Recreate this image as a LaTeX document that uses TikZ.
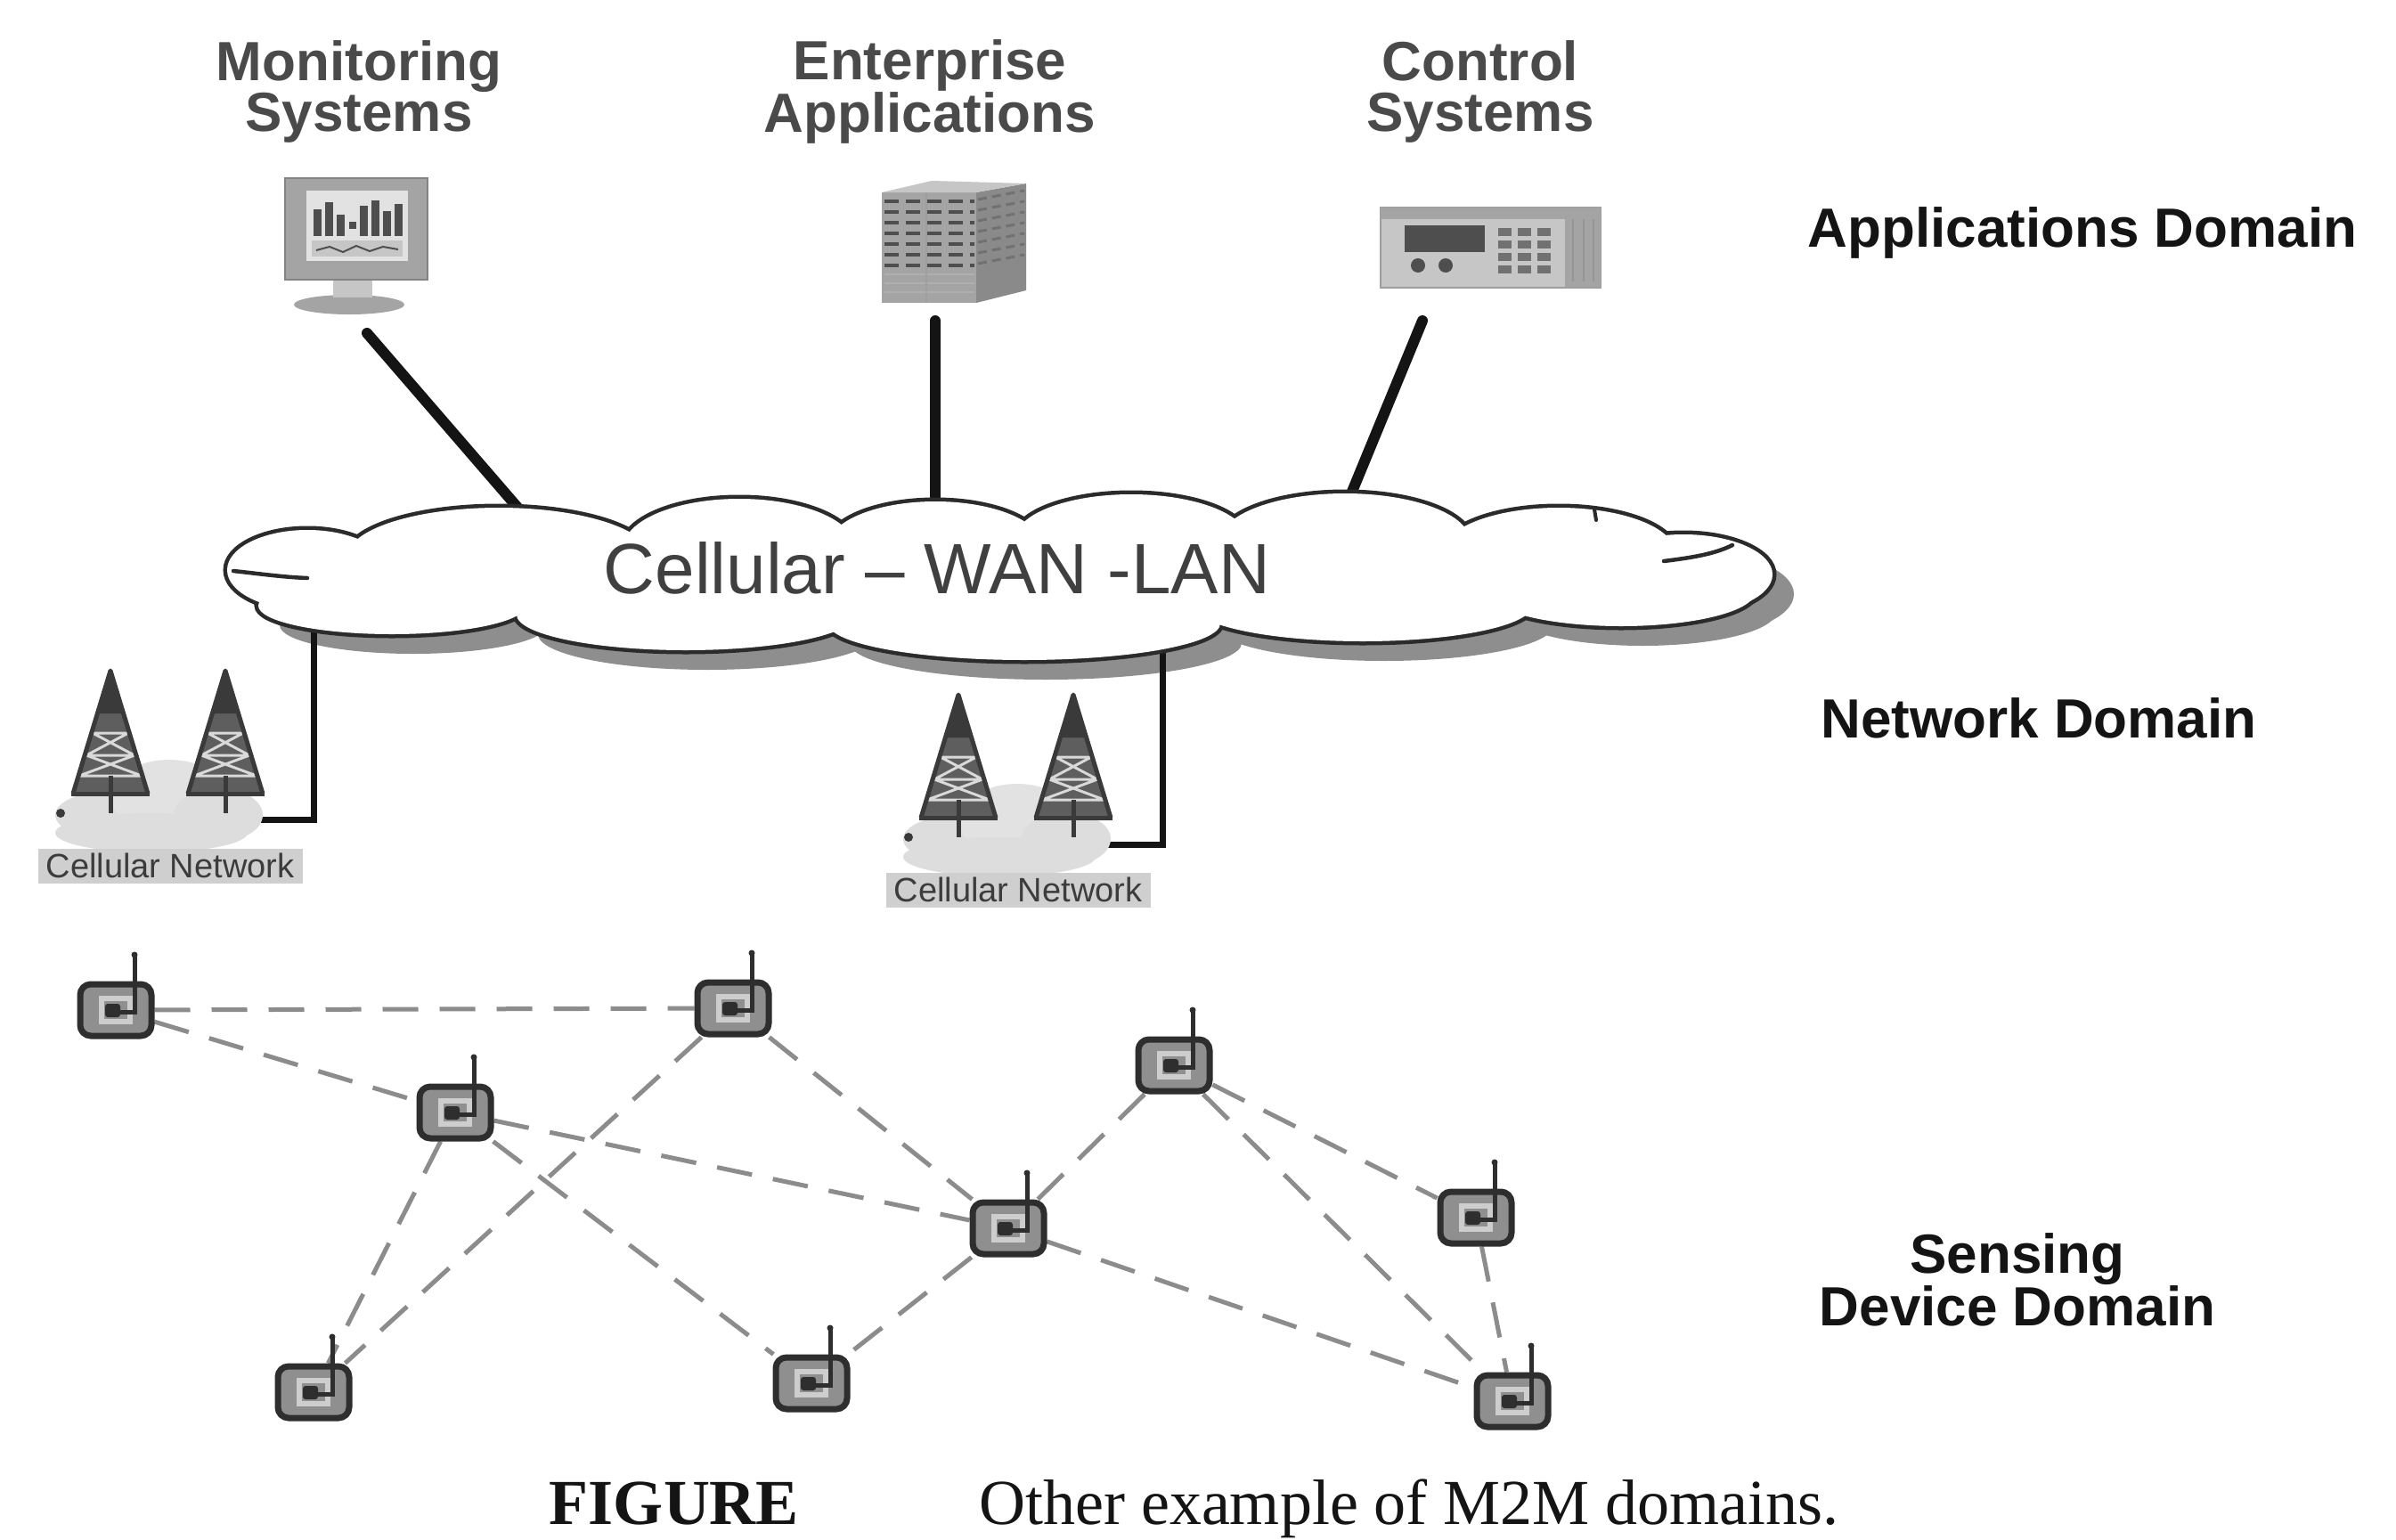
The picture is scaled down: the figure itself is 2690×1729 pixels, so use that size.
\documentclass[tikz,border=0pt]{standalone}
\usepackage{fontspec}
\setmainfont{Liberation Serif}
\setsansfont{Liberation Sans}
\usetikzlibrary{calc}
\pgfdeclarelayer{background}
\pgfsetlayers{background,main}

\definecolor{ink}{HTML}{141414}
\definecolor{headgray}{HTML}{4A4A4A}
\definecolor{cloudline}{HTML}{2B2B2B}
\definecolor{cloudshadow}{HTML}{8E8E8E}
\definecolor{cloudtext}{HTML}{404040}
\definecolor{meshgray}{HTML}{8C8C8C}
\definecolor{sensordark}{HTML}{2E2E2E}
\definecolor{sensorgray}{HTML}{8F8F8F}
\definecolor{sensorlight}{HTML}{CDCDCD}
\definecolor{towerdark}{HTML}{3A3A3A}
\definecolor{towerfill}{HTML}{5E5E5E}
\definecolor{cnfill}{HTML}{CFCFCF}
\definecolor{cncloud}{HTML}{DDDDDD}
\definecolor{cntext}{HTML}{3C3C3C}
\definecolor{icondark}{HTML}{4E4E4E}
\definecolor{icondeep}{HTML}{8A8A8A}
\definecolor{iconmid}{HTML}{A4A4A4}
\definecolor{iconlight}{HTML}{C6C6C6}
\definecolor{screenbg}{HTML}{E2E2E2}

\begin{document}
\begin{tikzpicture}[x=1pt,y=-1pt,
  headlbl/.style={font=\sffamily\bfseries\fontsize{62}{57}\selectfont, text=headgray, align=center, inner sep=0pt},
  domlbl/.style={font=\sffamily\bfseries\fontsize{62}{57}\selectfont, text=ink, align=center, inner sep=0pt},
  cloudtxt/.style={font=\sffamily\fontsize{80}{90}\selectfont, text=cloudtext, inner sep=0pt},
  captxt/.style={font=\rmfamily\fontsize{72}{80}\selectfont, text=ink, inner sep=0pt},
  uplink/.style={draw=ink, line width=12pt, line cap=round},
  droplink/.style={draw=ink, line width=7pt},
  mesh/.style={draw=meshgray, line width=5pt, dash pattern=on 40pt off 24pt},
  sensor/.style={rectangle, rounded corners=12pt, minimum width=80pt, minimum height=58pt,
    draw=sensordark, line width=7pt, fill=sensorgray, inner sep=0pt},
  cnlbl/.style={fill=cnfill, minimum width=297pt, minimum height=39pt, inner sep=0pt,
    font=\sffamily\fontsize{38}{40}\selectfont, text=cntext},
  celltower/.pic={
    \fill[towerfill] (0,0) -- (-42,138) -- (42,138) -- cycle;
    \fill[towerdark] (0,0) -- (-13,48) -- (13,48) -- cycle;
    \draw[white!85!black, line width=3pt]
      (-20,70) -- (20,70) (-27,95) -- (27,95) (-35,118) -- (35,118)
      (-20,70) -- (27,95) (20,70) -- (-27,95) (-27,95) -- (35,118) (27,95) -- (-35,118);
    \draw[towerdark, line width=5pt, line join=round] (-42,138) -- (0,0) -- (42,138);
    \draw[towerdark, line width=5pt] (-44,138) -- (44,138) (0,118) -- (0,160);
  },
  cellnet/.pic={
    \fill[cncloud] (120,915) ellipse [x radius=58, y radius=26];
    \fill[cncloud!85!white] (190,895) ellipse [x radius=65, y radius=42];
    \fill[cncloud] (245,915) ellipse [x radius=50, y radius=30];
    \fill[cncloud] (170,935) ellipse [x radius=108, y radius=22];
    \fill[towerdark] (68,913) circle (5pt);
    \pic at (124,753) {celltower};
    \pic at (253,753) {celltower};
    \node[cnlbl] (-lbl) at (191,972) {Cellular Network};
  }
]
\useasboundingbox (0,0) rectangle (2690,1729);
\begin{pgfonlayer}{background}
  \fill[white] (0,0) rectangle (2690,1729);
\end{pgfonlayer}

% lobes of the WAN cloud: centre x / centre y / x radius / y radius
\def\cloudparts{345/640/90/45, 560/625/170/55, 830/615/130/55, 1050/613/120/50,
  1270/605/130/50, 1510/607/140/53, 1750/620/130/50, 1890/645/100/45,
  440/680/150/32, 770/690/190/40, 1150/700/220/41, 1530/680/190/40,
  1820/665/150/38, 1120/645/760/55}

% cloud shadow
\foreach \cx/\cy/\rx/\ry in \cloudparts
  \fill[cloudshadow] (\cx+24,\cy+22) ellipse [x radius=\rx, y radius=\ry];

% links from the cloud down to the cellular networks
\coordinate (cloudL) at (352,690);
\coordinate (cellA) at (283,920);
\coordinate (cloudM) at (1305,720);
\coordinate (cellB) at (1237,948);
\draw[droplink] (cloudL) |- (cellA);
\draw[droplink] (cloudM) |- (cellB);

% links from the applications down to the cloud
\coordinate (monLow) at (412,374);
\coordinate (cloudMon) at (590,580);
\coordinate (entLow) at (1050,360);
\coordinate (cloudEnt) at (1050,572);
\coordinate (ctlLow) at (1597,360);
\coordinate (cloudCtl) at (1513,564);
\draw[uplink] (monLow) -- (cloudMon);
\draw[uplink] (entLow) -- (cloudEnt);
\draw[uplink] (ctlLow) -- (cloudCtl);

% cloud body: outline of the union of the lobes
\foreach \cx/\cy/\rx/\ry in \cloudparts
  \draw[cloudline, line width=9pt, fill=white] (\cx,\cy) ellipse [x radius=\rx, y radius=\ry];
\foreach \cx/\cy/\rx/\ry in \cloudparts
  \fill[white] (\cx,\cy) ellipse [x radius=\rx, y radius=\ry];
\draw[cloudline, line width=4.5pt, line cap=round] (262,641) .. controls (290,644) and (318,648) .. (345,649);
\draw[cloudline, line width=4.5pt, line cap=round] (1868,630) .. controls (1900,626) and (1925,622) .. (1945,612);
\draw[cloudline, line width=4pt, line cap=round] (1790,572) -- (1792,584);
\node[cloudtxt] (wan) at (1052,638) {Cellular – WAN -LAN};

% monitoring station
\fill[iconmid] (392,342) ellipse [x radius=62, y radius=11];
\fill[iconlight] (374,312) rectangle (418,334);
\fill[iconmid] (320,200) rectangle (480,314);
\draw[icondark!70, line width=2pt] (320,200) rectangle (480,314);
\fill[screenbg] (344,214) rectangle (458,293);
\foreach \x/\h in {352/30, 365/38, 378/24, 404/34, 417/40, 430/28, 443/36}
  \fill[icondark] (\x,265) rectangle ++(9,-\h);
\fill[icondark] (392,257) rectangle ++(8,-8);
\fill[iconlight] (350,270) rectangle (452,288);
\draw[icondark, line width=2pt] (355,281) -- (370,277) -- (385,283) -- (400,276) -- (415,282) -- (430,277) -- (447,280);

% enterprise server
\fill[iconmid] (990,216) rectangle (1096,340);
\fill[icondeep] (1096,216) -- (1152,206) -- (1152,326) -- (1096,340) -- cycle;
\fill[iconlight] (990,216) -- (1046,203) -- (1152,206) -- (1096,216) -- cycle;
\foreach \y in {226,238,...,298}
  \draw[icondark, line width=4pt, dash pattern=on 16pt off 8pt] (993,\y) -- (1094,\y);
\foreach \y in {224,236,...,296}
  \draw[icondark!80, line width=3pt, dash pattern=on 10pt off 6pt] (1098,\y) -- (1150,\y-10);
\foreach \y in {308,318,328}
  \draw[icondark!45, line width=2pt] (993,\y) -- (1094,\y);
\draw[icondark!55, line width=2pt] (1040,216) -- (1040,340);

% control panel
\fill[iconlight] (1550,233) rectangle (1797,323);
\draw[icondark!55, line width=2pt] (1550,233) rectangle (1797,323);
\fill[iconmid] (1550,233) rectangle (1797,246);
\fill[icondark] (1577,253) rectangle (1667,283);
\fill[icondark] (1592,298) circle (8pt);
\fill[icondark] (1623,298) circle (8pt);
\foreach \i in {0,1,2}
  \foreach \j in {0,1,2,3}
    \fill[icondark!80] (1682+\i*22,256+\j*14) rectangle ++(15,9);
\fill[iconmid] (1757,240) rectangle (1797,322);
\foreach \x in {1766,1778,1789}
  \draw[icondark!60, line width=2pt] (\x,246) -- (\x,316);

% cellular networks
\pic (cnA) at (0,0) {cellnet};
\pic (cnB) at (952,27) {cellnet};

% sensing devices
\node[sensor] (s1) at (130,1134) {};
\node[sensor] (s2) at (823,1132) {};
\node[sensor] (s3) at (511,1249) {};
\node[sensor] (s4) at (1318,1196) {};
\node[sensor] (s5) at (1132,1379) {};
\node[sensor] (s6) at (1657,1367) {};
\node[sensor] (s7) at (352,1563) {};
\node[sensor] (s8) at (911,1553) {};
\node[sensor] (s9) at (1698,1573) {};
\foreach \n in {s1,s2,s3,s4,s5,s6,s7,s8,s9} {
  \begin{scope}[shift={(\n)}]
    \fill[sensorlight] (-19,-16) rectangle (19,16);
    \fill[sensorgray] (-13,-10) rectangle (13,10);
    \fill[sensordark, rounded corners=3pt] (-12,-7) rectangle (5,8);
    \draw[sensordark, line width=5pt] (21,-62) -- (21,2) -- (4,2);
    \fill[sensordark] (21,-62) circle (3.5pt);
  \end{scope}
}
% dashed radio links between the devices, kept behind them
\begin{pgfonlayer}{background}
  \foreach \a/\b in {s1/s2, s1/s3, s2/s7, s2/s5, s3/s5, s3/s8, s3/s7,
                     s4/s5, s4/s6, s4/s9, s5/s8, s5/s9, s6/s9}
    \draw[mesh] (\a) -- (\b);
\end{pgfonlayer}

% labels
\node[headlbl] (monT) at (403,103) {Monitoring\\Systems};
\node[headlbl] (entT) at (1044,103) {Enterprise\\Applications};
\node[headlbl] (ctlT) at (1662,103) {Control\\Systems};
\node[domlbl] (appD) at (2338,261) {Applications Domain};
\node[domlbl] (netD) at (2289,806) {Network Domain};
\node[domlbl] (senD) at (2265,1437) {Sensing\\Device Domain};
\node[captxt, font=\rmfamily\bfseries\fontsize{72}{80}\selectfont, anchor=base] (figT) at (757,1711) {FIGURE};
\node[captxt, anchor=base] (capT) at (1582,1711) {Other example of M2M domains.};
\end{tikzpicture}
\end{document}
